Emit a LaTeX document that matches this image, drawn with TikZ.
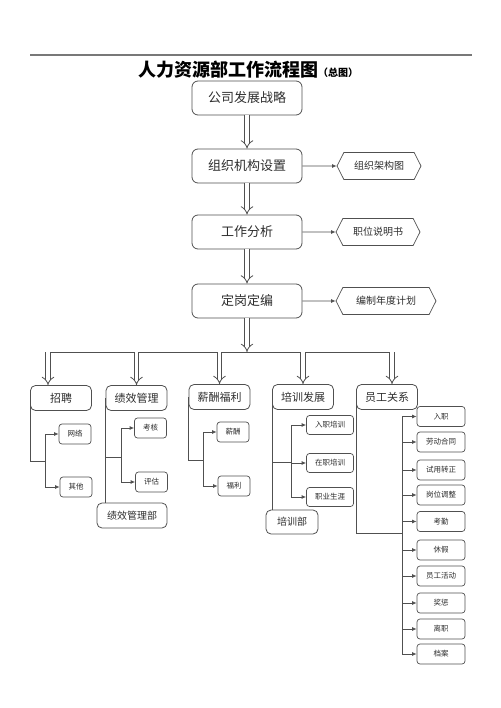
\documentclass[tikz,border=0pt]{standalone}
\usepackage{fontspec}
\setmainfont{Noto Sans CJK SC}
\usetikzlibrary{arrows.meta,shapes.symbols}
\definecolor{hrline}{RGB}{80,80,80}
\definecolor{hrtext}{RGB}{45,45,45}
\definecolor{hrrule}{RGB}{120,120,120}

\begin{document}
\begin{tikzpicture}[x=1pt, y=-1pt,
  mainbox/.style={draw=hrline, rounded corners=6pt, line width=0.8pt, text=hrtext,
    font=\fontsize{13}{15}\selectfont, minimum width=110pt, minimum height=34pt, inner sep=0pt},
  docnode/.style={draw=hrline, signal, signal to=west and east, signal pointer angle=126,
    line width=0.7pt, text=hrtext, font=\fontsize{10}{12}\selectfont,
    minimum height=27pt, inner sep=0pt},
  midbox/.style={draw=hrline, rounded corners=5pt, line width=0.8pt, text=hrtext,
    font=\fontsize{11}{13}\selectfont, minimum width=61pt, minimum height=25pt, inner sep=0pt},
  deptbox/.style={draw=hrline, rounded corners=5pt, line width=0.8pt, text=hrtext,
    font=\fontsize{10}{12}\selectfont, minimum height=25pt, inner sep=0pt},
  leafbox/.style={draw=hrline, rounded corners=3pt, line width=0.7pt, text=hrtext,
    font=\fontsize{7.5}{9}\selectfont, minimum width=32pt, minimum height=20pt, inner sep=0pt},
  line/.style={draw=hrline, line width=0.8pt},
  arr/.style={line, -{Latex[length=4.5pt, width=4pt]}},
  dblarr/.style={draw=hrline, line width=0.8pt, double=white, double distance=3.6pt, -{Implies}}]
\useasboundingbox (0,0) rectangle (500,708);
% Title
\coordinate (ruleL) at (30,55);
\coordinate (ruleR) at (472,55);
\draw[hrrule, line width=1.2pt] (ruleL) -- (ruleR);
\node[font=\bfseries\fontsize{18}{20}\selectfont] (title) at (248,70)
  {人力资源部工作流程图{\fontsize{10}{12}\selectfont（总图）}};
% Main chain
\node[mainbox] (strat) at (247,98) {公司发展战略};
\node[mainbox] (org)   at (247,166) {组织机构设置};
\node[mainbox] (job)   at (247,232) {工作分析};
\node[mainbox] (post)  at (247,301) {定岗定编};
\draw[dblarr] (strat) -- (org);
\draw[dblarr] (org) -- (job);
\draw[dblarr] (job) -- (post);
% Documents
\node[docnode, minimum width=84pt]  (orgchart) at (379,166) {组织架构图};
\node[docnode, minimum width=84pt]  (jobdesc)  at (378,232) {职位说明书};
\node[docnode, minimum width=100pt] (plan)     at (386,301) {编制年度计划};
\draw[arr] (org) -- (orgchart);
\draw[arr] (job) -- (jobdesc);
\draw[arr] (post) -- (plan);
% Bus
\coordinate (busL) at (45,352);
\coordinate (busR) at (393,352);
\coordinate (bus)  at (247,352);
\coordinate (b1)   at (48,352);
\coordinate (b5)   at (392,352);
\draw[dblarr] (post) -- (bus);
\draw[line] (busL) -- (busR);
% Second level
\node[midbox] (recruit) at (61,398)    {招聘};
\node[midbox] (perf)    at (136.5,398) {绩效管理};
\node[midbox] (pay)     at (219.5,397) {薪酬福利};
\node[midbox] (train)   at (303,397)   {培训发展};
\node[midbox] (rel)     at (387,397)   {员工关系};
\draw[dblarr] (b1) -- (b1 |- recruit.north);
\draw[dblarr] (perf |- bus) -- (perf);
\draw[dblarr] (pay |- bus) -- (pay);
\draw[dblarr] (train |- bus) -- (train);
\draw[dblarr] (b5) -- (b5 |- rel.north);
% Recruiting
\node[leafbox] (net)   at (75,434) {网络};
\node[leafbox] (other) at (76,487) {其他};
\coordinate (recj) at (45,461);
\draw[line] (recruit.west) |- (recj);
\draw[arr] (recj) |- (net.west);
\draw[arr] (recj) |- (other.west);
% Performance
\node[leafbox] (exam) at (150.5,428) {考核};
\node[leafbox] (eval) at (151.5,482) {评估};
\node[deptbox, minimum width=70pt] (perfdept) at (132,515.5) {绩效管理部};
\coordinate (perfj) at (121,457);
\draw[line] (perf.west) -- (perf.west |- perfdept.north);
\draw[line] (perf.west |- perfj) -- (perfj);
\draw[arr] (perfj) |- (exam.west);
\draw[arr] (perfj) |- (eval.west);
% Pay
\node[leafbox] (salary)  at (233,432) {薪酬};
\node[leafbox] (welfare) at (234,486) {福利};
\coordinate (payj) at (203,460);
\draw[line] (pay.west) |- (payj);
\draw[arr] (payj) |- (salary.west);
\draw[arr] (payj) |- (welfare.west);
% Training
\node[leafbox, minimum width=47pt, minimum height=19pt] (induct) at (330,425) {入职培训};
\node[leafbox, minimum width=47pt, minimum height=19pt] (onjob)  at (330,463) {在职培训};
\node[leafbox, minimum width=47pt, minimum height=19pt] (career) at (330,497) {职业生涯};
\node[deptbox, minimum width=52pt, minimum height=24pt] (traindept) at (292,522) {培训部};
\coordinate (trainj) at (291,462);
\draw[line] (train.west) -- (train.west |- traindept.north);
\draw[line] (train.west |- trainj) -- (trainj);
\draw[arr] (trainj) |- (induct.west);
\draw[arr] (trainj) |- (onjob.west);
\draw[arr] (trainj) |- (career.west);
% Employee relations
\node[leafbox, minimum width=48pt] (entry)     at (441,416.5) {入职};
\node[leafbox, minimum width=48pt] (contract)  at (441,442)   {劳动合同};
\node[leafbox, minimum width=48pt] (probation) at (441,470)   {试用转正};
\node[leafbox, minimum width=48pt] (transfer)  at (441,495)   {岗位调整};
\node[leafbox, minimum width=48pt] (attend)    at (441,521.5) {考勤};
\node[leafbox, minimum width=48pt] (leave)     at (441,550)   {休假};
\node[leafbox, minimum width=48pt] (activity)  at (441,576)   {员工活动};
\node[leafbox, minimum width=48pt] (reward)    at (441,603)   {奖惩};
\node[leafbox, minimum width=48pt] (resign)    at (441,629)   {离职};
\node[leafbox, minimum width=48pt] (archive)   at (441,654)   {档案};
\coordinate (relj) at (402,533);
\draw[line] (rel.west) |- (relj);
\foreach \item in {entry,contract,probation,transfer,attend,leave,activity,reward,resign,archive}
  \draw[arr] (relj) |- (\item.west);
\end{tikzpicture}
\end{document}
